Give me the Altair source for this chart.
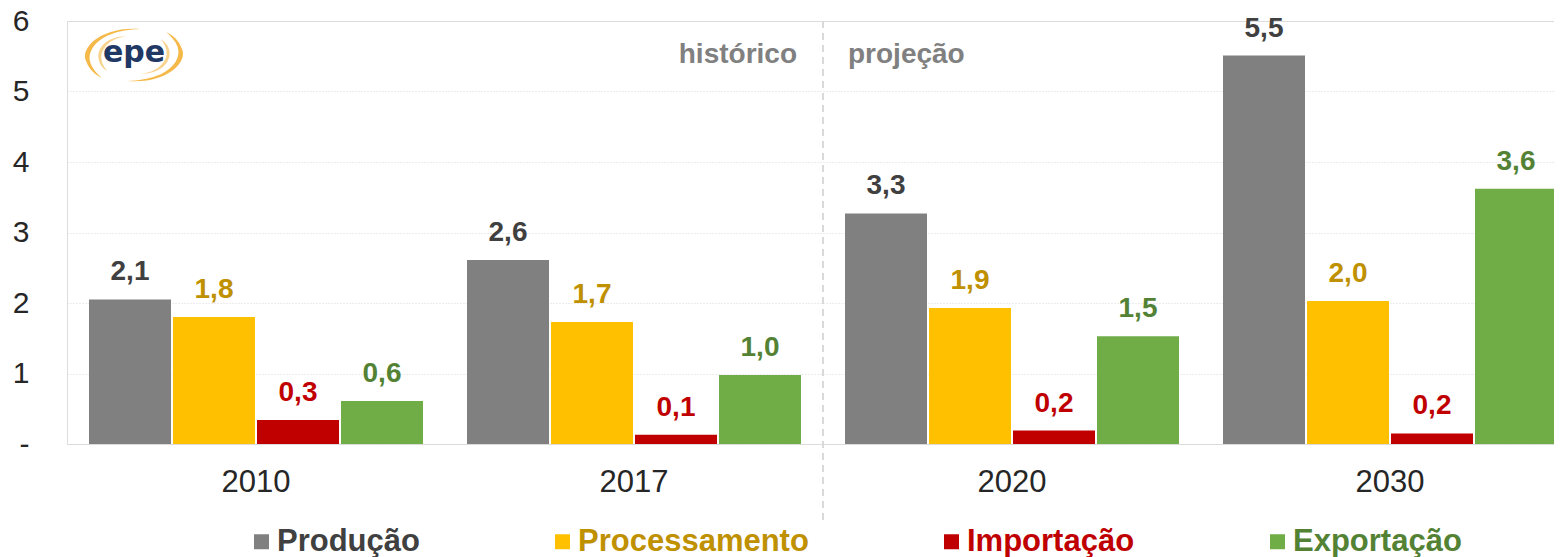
import altair as alt
import pandas as pd

FONT = "Liberation Sans"

years = ["2010", "2017", "2020", "2030"]
series = ["Produção", "Processamento", "Importação", "Exportação"]
producao = [2.05, 2.61, 3.27, 5.51]
processamento = [1.80, 1.73, 1.93, 2.03]
importacao = [0.34, 0.13, 0.19, 0.15]
exportacao = [0.61, 0.98, 1.53, 3.62]
labels_producao = ["2,1", "2,6", "3,3", "5,5"]
labels_processamento = ["1,8", "1,7", "1,9", "2,0"]
labels_importacao = ["0,3", "0,1", "0,2", "0,2"]
labels_exportacao = ["0,6", "1,0", "1,5", "3,6"]
y_ticks = [0, 1, 2, 3, 4, 5, 6]
period_texts = ["histórico", "projeção"]
logo_text = ["epe"]

bar_colors = ["#808080", "#FFC000", "#C00000", "#70AD47"]
label_colors = ["#404040", "#BF9000", "#C00000", "#548235"]

rows = []
for s, vals, labs in zip(series,
                         [producao, processamento, importacao, exportacao],
                         [labels_producao, labels_processamento, labels_importacao, labels_exportacao]):
    for yr, v, lab in zip(years, vals, labs):
        rows.append({"year": yr, "serie": s, "value": v, "label": lab})
df = pd.DataFrame(rows)

x_scale = alt.Scale(domain=years, paddingInner=0, paddingOuter=0)
x_axis = alt.Axis(title=None, labelFontSize=31, labelColor="#262626", labelFont=FONT,
                  labelPadding=23, ticks=False, domain=False, labelAngle=0, grid=False)
y_scale = alt.Scale(domain=[0, 6], nice=False, zero=True)
y_axis = alt.Axis(title=None, values=y_ticks,
                  labelExpr="datum.value == 0 ? '-\u00a0\u00a0' : format(datum.value, 'd')",
                  labelFontSize=30, labelColor="#262626", labelFont=FONT, labelPadding=38,
                  ticks=False, domain=False, grid=True, gridColor="#D9D9D9",
                  gridDash=[1, 2], gridWidth=1)

x_enc = alt.X("year:N", scale=x_scale, axis=x_axis)
y_enc = alt.Y("value:Q", scale=y_scale, axis=y_axis)
xoff = alt.XOffset("serie:N", scale=alt.Scale(domain=series, paddingInner=2 / 84, paddingOuter=22 / 84))

legend_color_expr = (
    "datum.value == 'Produção' ? '#404040' : "
    "datum.value == 'Processamento' ? '#BF9000' : "
    "datum.value == 'Importação' ? '#C00000' : '#548235'"
)

bars = alt.Chart(df).mark_bar().encode(
    x=x_enc,
    xOffset=xoff,
    y=y_enc,
    color=alt.Color("serie:N", scale=alt.Scale(domain=series, range=bar_colors),
                    legend=alt.Legend(title=None, orient="none", legendX=179, legendY=505,
                                      direction="horizontal", columns=4,
                                      symbolType="square", symbolSize=225, symbolStrokeWidth=0,
                                      labelFont=FONT, labelFontSize=31, labelFontWeight="bold",
                                      labelColor={"expr": legend_color_expr},
                                      labelOffset=0, columnPadding=127, labelLimit=0)),
)

texts = alt.Chart(df).mark_text(font=FONT, fontSize=28, fontWeight="bold",
                                baseline="alphabetic", dy=-19).encode(
    x=x_enc,
    xOffset=xoff,
    y=y_enc,
    text="label:N",
    color=alt.Color("serie:N", scale=alt.Scale(domain=series, range=label_colors), legend=None),
)

div_df = pd.DataFrame({"year": ["2017"]})
rule = alt.Chart(div_df).mark_rule(color="#D9D9D9", strokeWidth=2, strokeDash=[7, 5]).encode(
    x=alt.X("year:N", bandPosition=1, scale=x_scale, axis=x_axis),
    y=alt.datum(6),
    y2=alt.datum(-1.08),
)

hist = alt.Chart(pd.DataFrame({"year": ["2017"], "t": [period_texts[0]]})).mark_text(
    align="right", dx=-26, baseline="alphabetic", font=FONT, fontSize=28,
    fontWeight="bold", color="#808080").encode(
    x=alt.X("year:N", bandPosition=1, scale=x_scale, axis=x_axis),
    y=alt.datum(5.4),
    text="t:N",
)
proj = alt.Chart(pd.DataFrame({"year": ["2020"], "t": [period_texts[1]]})).mark_text(
    align="left", dx=25, baseline="alphabetic", font=FONT, fontSize=28,
    fontWeight="bold", color="#808080").encode(
    x=alt.X("year:N", bandPosition=0, scale=x_scale, axis=x_axis),
    y=alt.datum(5.4),
    text="t:N",
)

logo_df = pd.DataFrame({"t": logo_text})
swoosh_left = ("M 0.12 -0.5 C -0.6 -0.56 -1.05 -0.15 -0.92 0.12 C -0.86 0.28 -0.76 0.37 -0.62 0.44 "
               "C -0.84 0.25 -0.92 0.06 -0.8 -0.13 C -0.64 -0.38 -0.3 -0.48 0.12 -0.5 Z")
swoosh_right = ("M -0.12 0.5 C 0.6 0.56 1.05 0.15 0.92 -0.12 C 0.86 -0.28 0.76 -0.37 0.62 -0.44 "
                "C 0.84 -0.25 0.92 -0.06 0.8 0.13 C 0.64 0.38 0.3 0.48 -0.12 0.5 Z")
swoosh_inner_l = ("M -0.15 -0.36 C -0.5 -0.36 -0.72 -0.15 -0.68 0.08 C -0.66 0.18 -0.6 0.26 -0.52 0.3 "
                  "C -0.64 0.16 -0.66 0.0 -0.58 -0.12 C -0.48 -0.27 -0.34 -0.33 -0.15 -0.36 Z")
swoosh_inner_r = ("M 0.15 0.36 C 0.5 0.36 0.72 0.15 0.68 -0.08 C 0.66 -0.18 0.6 -0.26 0.52 -0.3 "
                  "C 0.64 -0.16 0.66 0.0 0.58 0.12 C 0.48 0.27 0.34 0.33 0.15 0.36 Z")
logo_layers = []
for shp, op in [(swoosh_left, 0.8), (swoosh_right, 0.8), (swoosh_inner_l, 0.5), (swoosh_inner_r, 0.5)]:
    logo_layers.append(
        alt.Chart(logo_df).mark_point(shape=shp, filled=True, color="#F2A71B",
                                      opacity=op, size=10816).encode(
            x=alt.value(67), y=alt.value(34)))
logo_t = alt.Chart(logo_df).mark_text(font="DejaVu Sans", fontSize=30, fontWeight="bold",
                                      color="#1F3864", baseline="alphabetic").encode(
    x=alt.value(67), y=alt.value(41), text="t:N")

chart = alt.layer(bars, texts, rule, hist, proj, *logo_layers, logo_t).resolve_scale(
    color="independent"
).properties(
    width=1512, height=423,
    autosize=alt.AutoSizeParams(type="none"),
    padding={"left": 59, "top": 13, "right": -25, "bottom": 113},
).configure_view(stroke=None).configure(background="white")

chart.save("out.html", embed_options={"renderer": "svg", "actions": False})
